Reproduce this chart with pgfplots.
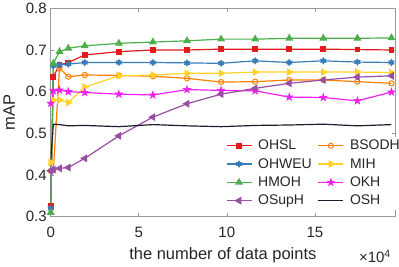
\documentclass[border=0pt]{standalone}
\usepackage{pgfplots}
\pgfplotsset{compat=1.18}
\usepackage{pgfplotstable}
\usepackage{fontspec}
\setmainfont{Liberation Sans}

\definecolor{cRed}{HTML}{E41A1C}
\definecolor{cOrange}{HTML}{FF7F00}
\definecolor{cBlue}{HTML}{377EB8}
\definecolor{cYellow}{HTML}{FFD426}
\definecolor{cGreen}{HTML}{4DAF4A}
\definecolor{cMag}{HTML}{F020F0}
\definecolor{cPurple}{HTML}{984EA3}
\definecolor{cBlack}{HTML}{1C1C2E}
\definecolor{axgray}{gray}{0.6}
\definecolor{txtgray}{gray}{0.15}

\pgfdeclareplotmark{pentastar}{%
  \pgfpathmoveto{\pgfpointpolar{90}{1.2\pgfplotmarksize}}%
  \pgfpathlineto{\pgfpointpolar{126}{0.46\pgfplotmarksize}}%
  \pgfpathlineto{\pgfpointpolar{162}{1.2\pgfplotmarksize}}%
  \pgfpathlineto{\pgfpointpolar{198}{0.46\pgfplotmarksize}}%
  \pgfpathlineto{\pgfpointpolar{234}{1.2\pgfplotmarksize}}%
  \pgfpathlineto{\pgfpointpolar{270}{0.46\pgfplotmarksize}}%
  \pgfpathlineto{\pgfpointpolar{306}{1.2\pgfplotmarksize}}%
  \pgfpathlineto{\pgfpointpolar{342}{0.46\pgfplotmarksize}}%
  \pgfpathlineto{\pgfpointpolar{18}{1.2\pgfplotmarksize}}%
  \pgfpathlineto{\pgfpointpolar{54}{0.46\pgfplotmarksize}}%
  \pgfpathclose\pgfusepathqfillstroke}
\pgfdeclareplotmark{hexastar}{%
  \pgfpathmoveto{\pgfpointpolar{90}{\pgfplotmarksize}}%
  \pgfpathlineto{\pgfpointpolar{120}{0.577\pgfplotmarksize}}%
  \pgfpathlineto{\pgfpointpolar{150}{\pgfplotmarksize}}%
  \pgfpathlineto{\pgfpointpolar{180}{0.577\pgfplotmarksize}}%
  \pgfpathlineto{\pgfpointpolar{210}{\pgfplotmarksize}}%
  \pgfpathlineto{\pgfpointpolar{240}{0.577\pgfplotmarksize}}%
  \pgfpathlineto{\pgfpointpolar{270}{\pgfplotmarksize}}%
  \pgfpathlineto{\pgfpointpolar{300}{0.577\pgfplotmarksize}}%
  \pgfpathlineto{\pgfpointpolar{330}{\pgfplotmarksize}}%
  \pgfpathlineto{\pgfpointpolar{0}{0.577\pgfplotmarksize}}%
  \pgfpathlineto{\pgfpointpolar{30}{\pgfplotmarksize}}%
  \pgfpathlineto{\pgfpointpolar{60}{0.577\pgfplotmarksize}}%
  \pgfpathclose\pgfusepathqfillstroke}

\pgfplotstableread{
x      ohsl  bsodh ohweu mih   hmoh  okh   osuph osh
0      0.325 0.410 0.320 0.430 0.310 0.572 0.410 0.436
0.15   0.636 0.412 0.662 0.580 0.668 0.602 0.413 0.522
0.5    0.664 0.656 0.664 0.580 0.696 0.604 0.416 0.521
1.0    0.670 0.636 0.666 0.574 0.704 0.600 0.418 0.518
1.935  0.688 0.640 0.670 0.611 0.710 0.598 0.440 0.519
3.87   0.696 0.639 0.670 0.638 0.716 0.594 0.494 0.516
5.805  0.700 0.637 0.670 0.640 0.719 0.592 0.539 0.521
7.74   0.700 0.632 0.669 0.644 0.722 0.605 0.571 0.518
9.675  0.702 0.623 0.668 0.644 0.726 0.603 0.594 0.516
11.61  0.702 0.624 0.674 0.647 0.726 0.602 0.608 0.519
13.545 0.702 0.628 0.670 0.647 0.728 0.587 0.620 0.520
15.48  0.702 0.628 0.674 0.647 0.728 0.586 0.628 0.522
17.415 0.701 0.624 0.671 0.647 0.728 0.578 0.635 0.518
19.35  0.700 0.620 0.670 0.646 0.729 0.599 0.638 0.521
}\datatable

\begin{document}
\begin{tikzpicture}
\path[use as bounding box] (-50.7pt,-49.3pt) rectangle (348.3pt,216.7pt);
\begin{axis}[
  name=ax,
  at={(0pt,0pt)}, anchor=south west,
  scale only axis, width=344.3pt, height=208.4pt,
  xmin=0, xmax=19.55, ymin=0.3, ymax=0.8,
  xtick={0,5,10,15}, xticklabels={0,5,10,15},
  ytick={0.3,0.4,0.5,0.6,0.7,0.8},
  yticklabels={0.3,0.4,0.5,0.6,0.7,0.8},
  tick align=inside, major tick length=3.5pt,
  axis line style={draw=axgray, line width=0.6pt},
  tick style={draw=axgray, line width=0.6pt},
  /pgf/number format/assume math mode=true,
  ticklabel style={font=\fontsize{15}{18}\selectfont, text=txtgray},
  xticklabel style={anchor=base, yshift=-20.6pt},
  yticklabel style={anchor=east, xshift=-0.5pt},
  xlabel={the number of data points},
  ylabel={mAP},
  label style={font=\fontsize{16.5}{19}\selectfont, text=txtgray},
  xlabel style={at={(axis description cs:0.5,0)}, anchor=base, yshift=-43pt},
  ylabel style={at={(axis description cs:-0.1037,0.5)}, anchor=base},
  legend columns=2,
  legend cell align=left,
  legend style={at={(rel axis cs:0.509,0.033)}, anchor=south west,
    inner sep=0pt, outer sep=0pt,
    draw=none, fill=white, font=\fontsize{14}{17}\selectfont, text=txtgray,
    nodes={inner xsep=2pt, inner ysep=0pt}, row sep=0pt, column sep=4pt},
  legend image code/.code={%
    \path[draw=none, fill=none] (0pt,-9.15pt) rectangle (25pt,9.15pt);
    \draw[mark repeat=2,mark phase=2,#1] plot coordinates {(0pt,0pt) (12.5pt,0pt) (25pt,0pt)};},
  every axis plot/.append style={line width=1.2pt},
]
\addplot[cRed, mark=square*, mark size=2.3pt, mark options={solid, fill=cRed}] table[x=x, y=ohsl] {\datatable};
\addlegendentry{OHSL}
\addplot[cOrange, mark=o, mark size=2.6pt, mark options={solid, line width=1pt}] table[x=x, y=bsodh] {\datatable};
\addlegendentry{BSODH}
\addplot[cBlue, mark=hexastar, mark size=3.2pt, mark options={solid, fill=cBlue, line width=0.6pt}] table[x=x, y=ohweu] {\datatable};
\addlegendentry{OHWEU}
\addplot[cYellow, mark=triangle*, mark size=3.4pt, mark options={solid, fill=cYellow, rotate=-90}] table[x=x, y=mih] {\datatable};
\addlegendentry{MIH}
\addplot[cGreen, mark=triangle*, mark size=3.4pt, mark options={solid, fill=cGreen}] table[x=x, y=hmoh] {\datatable};
\addlegendentry{HMOH}
\addplot[cMag, mark=pentastar, mark size=3.2pt, mark options={solid, fill=cMag, line width=0.6pt}] table[x=x, y=okh] {\datatable};
\addlegendentry{OKH}
\addplot[cPurple, mark=triangle*, mark size=3.4pt, mark options={solid, fill=cPurple, rotate=90}] table[x=x, y=osuph] {\datatable};
\addlegendentry{OSupH}
\addplot[cBlack, no markers] table[x=x, y=osh] {\datatable};
\addlegendentry{OSH}
\end{axis}
\node[anchor=base east, font=\fontsize{15}{18}\selectfont, text=txtgray, inner sep=0pt]
  at ([xshift=-4pt, yshift=-46pt]ax.south east) {×10\textsuperscript{4}};
\end{tikzpicture}
\end{document}
